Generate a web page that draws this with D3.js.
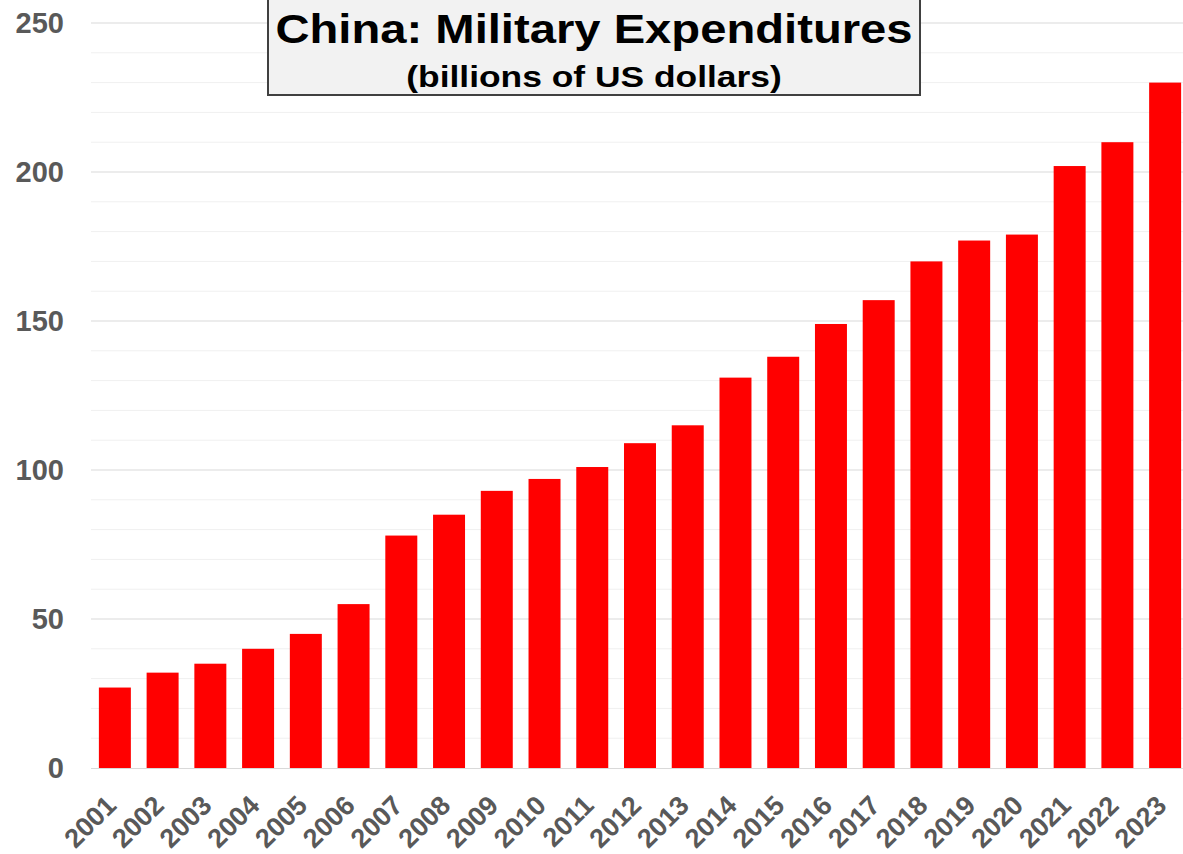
<!DOCTYPE html>
<html>
<head>
<meta charset="utf-8">
<script src="https://cdn.jsdelivr.net/npm/d3@7"></script>
<style>
  body { margin: 0; background: #fff; }
  text { font-family: "Liberation Sans", Arial, sans-serif; }
</style>
</head>
<body>
<div id="chart"></div>
<script>
// data
const years = ["2001","2002","2003","2004","2005","2006","2007","2008","2009","2010","2011","2012",
               "2013","2014","2015","2016","2017","2018","2019","2020","2021","2022","2023"];
const spending = [27, 32, 35, 40, 45, 55, 78, 85, 93, 97, 101, 109,
                  115, 131, 138, 149, 157, 170, 177, 179, 202, 210, 230];
const yTicks = [0, 50, 100, 150, 200, 250];
const minorTicks = d3.range(0, 251, 10);

const W = 1183, H = 854;
const plotLeft = 91, plotRight = 1189, plotTop = 23, plotBottom = 768;

const svg = d3.select("#chart")
    .append("svg")
    .attr("width", W)
    .attr("height", H);

const x = d3.scaleBand()
    .domain(years)
    .range([plotLeft, plotRight])
    .paddingInner(0.33)
    .paddingOuter(0.165);

const y = d3.scaleLinear()
    .domain([0, 250])
    .range([plotBottom, plotTop]);

// faint minor grid
svg.append("g")
    .selectAll("line")
    .data(minorTicks.filter(d => d % 50 !== 0))
    .enter().append("line")
    .attr("x1", plotLeft).attr("x2", W)
    .attr("y1", d => y(d)).attr("y2", d => y(d))
    .attr("stroke", "#f0f0f0")
    .attr("stroke-width", 1);

// major grid
svg.append("g")
    .selectAll("line")
    .data(yTicks.filter(d => d > 0))
    .enter().append("line")
    .attr("x1", plotLeft).attr("x2", W)
    .attr("y1", d => y(d)).attr("y2", d => y(d))
    .attr("stroke", "#d9d9d9")
    .attr("stroke-width", 1);

// y axis labels
const yAxis = svg.append("g")
    .attr("transform", `translate(${plotLeft - 27},0)`)
    .call(d3.axisLeft(y).tickValues(yTicks).tickSize(0).tickPadding(0));
yAxis.select(".domain").remove();
yAxis.selectAll("text")
    .attr("fill", "#595959")
    .style("font-size", "29px")
    .style("font-weight", "bold");

// bars
svg.append("g")
    .selectAll("rect")
    .data(spending)
    .enter().append("rect")
    .attr("x", (d, i) => x(years[i]))
    .attr("y", d => y(d))
    .attr("width", x.bandwidth())
    .attr("height", d => y(0) - y(d))
    .attr("fill", "#ff0000");

// x axis
const xAxis = svg.append("g")
    .attr("transform", `translate(0,${plotBottom})`)
    .call(d3.axisBottom(x).tickSize(0).tickPadding(0));
xAxis.select(".domain")
    .attr("stroke", "#d9d9d9")
    .attr("d", `M${plotLeft},0.5H${W}`);
xAxis.selectAll("text")
    .attr("fill", "#595959")
    .style("font-size", "27px")
    .style("font-weight", "bold")
    .attr("text-anchor", "end")
    .attr("y", 0)
    .attr("dy", "0")
    .attr("transform", "translate(3,39) rotate(-45)");

// title box
const box = svg.append("g");
box.append("rect")
    .attr("x", 268).attr("y", -2)
    .attr("width", 652).attr("height", 97)
    .attr("fill", "#f2f2f2")
    .attr("stroke", "#404040")
    .attr("stroke-width", 2);
box.append("text")
    .attr("transform", "translate(594,43) scale(1.18,1)")
    .attr("text-anchor", "middle")
    .style("font-size", "40px")
    .style("font-weight", "bold")
    .attr("fill", "#000")
    .text("China: Military Expenditures");
box.append("text")
    .attr("transform", "translate(594,87) scale(1.18,1)")
    .attr("text-anchor", "middle")
    .style("font-size", "30px")
    .style("font-weight", "bold")
    .attr("fill", "#000")
    .text("(billions of US dollars)");
</script>
</body>
</html>
